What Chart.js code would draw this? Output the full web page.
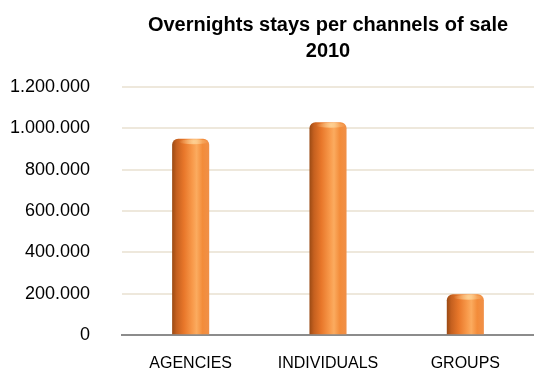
<!DOCTYPE html>
<html>
<head>
<meta charset="utf-8">
<script src="https://cdn.jsdelivr.net/npm/chart.js@4/dist/chart.umd.min.js"></script>
<style>
  html, body { margin: 0; padding: 0; background: #ffffff; }
  #wrap { width: 534px; height: 378px; }
</style>
</head>
<body>
<div id="wrap"><canvas id="c"></canvas></div>
<script>
// Overnight stays by sales channel, 2010
const titleLines = ['Overnights stays per channels of sale', '2010'];
const channels = ['AGENCIES', 'INDIVIDUALS', 'GROUPS'];
const overnights = [950000, 1030000, 198000];
const yTickLabels = ['0', '200.000', '400.000', '600.000', '800.000', '1.000.000', '1.200.000'];

// Cylinder-like shading across each bar
const shadeBars = {
  id: 'shadeBars',
  beforeDatasetsDraw(chart) {
    const ctx = chart.ctx;
    chart.getDatasetMeta(0).data.forEach(bar => {
      const l = bar.x - bar.width / 2, r = bar.x + bar.width / 2;
      const g = ctx.createLinearGradient(l, 0, r, 0);
      g.addColorStop(0.00, '#9a4a14');
      g.addColorStop(0.12, '#c5601f');
      g.addColorStop(0.32, '#e8772a');
      g.addColorStop(0.55, '#f89a4b');
      g.addColorStop(0.66, '#fbab5f');
      g.addColorStop(0.82, '#f38c3a');
      g.addColorStop(1.00, '#f09048');
      bar.options.backgroundColor = g;
    });
  },
  afterDatasetsDraw(chart) {
    const ctx = chart.ctx;
    chart.getDatasetMeta(0).data.forEach(bar => {
      // soft highlight on the rounded top cap
      const cx = bar.x + bar.width * 0.08;
      const cy = bar.y + 3;
      ctx.save();
      const rg = ctx.createRadialGradient(cx, cy, 0, cx, cy, bar.width * 0.4);
      rg.addColorStop(0, 'rgba(255,225,170,0.75)');
      rg.addColorStop(1, 'rgba(255,225,170,0)');
      ctx.fillStyle = rg;
      ctx.beginPath();
      ctx.ellipse(cx, cy, bar.width * 0.4, 2.5, 0, 0, Math.PI * 2);
      ctx.fill();
      ctx.restore();
    });
  }
};

new Chart(document.getElementById('c'), {
  type: 'bar',
  data: {
    labels: channels,
    datasets: [{
      data: overnights,
      backgroundColor: () => '#ed7d31',
      borderWidth: 0,
      borderRadius: 6,
      borderSkipped: 'start',
      barPercentage: 0.27,
      categoryPercentage: 1
    }]
  },
  options: {
    responsive: true,
    maintainAspectRatio: false,
    animation: false,
    layout: { padding: 0 },
    plugins: {
      legend: { display: false },
      tooltip: { enabled: false },
      title: {
        display: true,
        text: titleLines,
        fullSize: false,
        color: '#000000',
        font: { family: 'Liberation Sans, Arial, sans-serif', size: 20, weight: 'bold', lineHeight: 1.3 },
        padding: { top: 12, bottom: 23 }
      }
    },
    scales: {
      x: {
        afterFit: (scale) => { scale.height = 35; },
        grid: { display: false, drawTicks: false },
        border: { display: true, color: '#8c8c8c', width: 2 },
        ticks: {
          color: '#000000',
          padding: 19,
          font: { family: 'Liberation Sans, Arial, sans-serif', size: 16 }
        }
      },
      y: {
        min: 0,
        max: 1200000,
        afterFit: (scale) => { scale.width = 122; },
        grid: { color: '#eee8dc', lineWidth: 2, drawTicks: false },
        border: { display: false },
        ticks: {
          stepSize: 200000,
          color: '#000000',
          padding: 32,
          font: { family: 'Liberation Sans, Arial, sans-serif', size: 18 },
          callback: (v, i) => yTickLabels[i]
        }
      }
    }
  },
  plugins: [shadeBars]
});
</script>
</body>
</html>
